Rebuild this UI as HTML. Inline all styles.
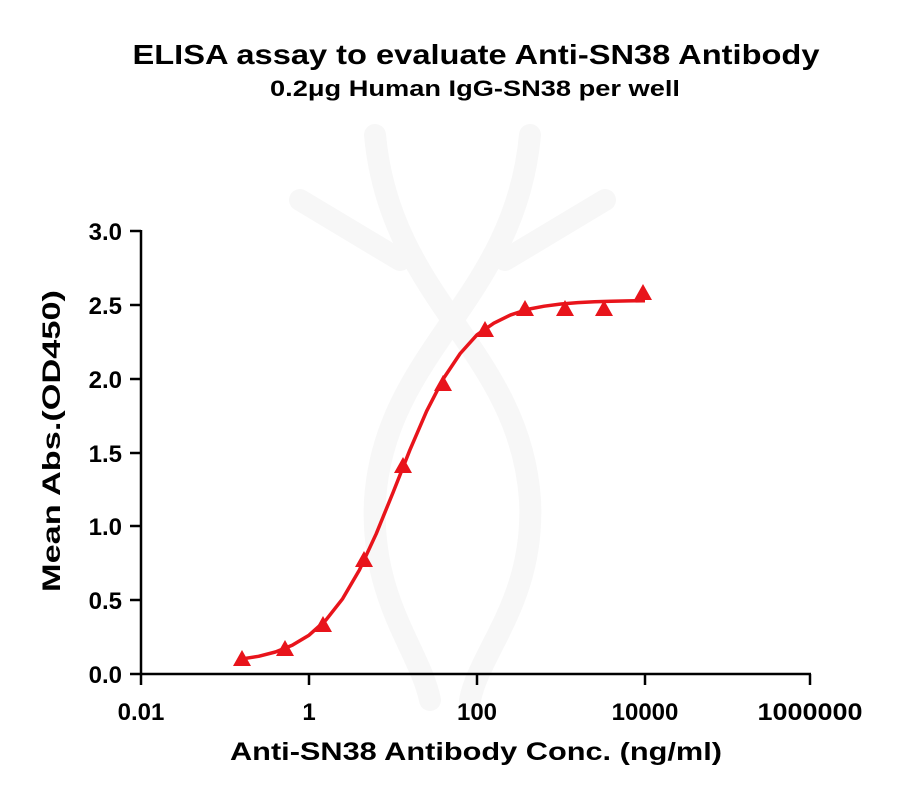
<!DOCTYPE html>
<html><head><meta charset="utf-8"><style>
body{margin:0;background:#fff}
svg text{font-family:"Liberation Sans",Arial,sans-serif;font-weight:bold;fill:#000}
</style></head><body>
<svg width="906" height="800" viewBox="0 0 906 800" xmlns="http://www.w3.org/2000/svg">
<g fill="none" stroke="#f7f7f7" stroke-width="22" stroke-linecap="round">
<path d="M375 135 C 390 300, 520 350, 530 500 C 535 600, 480 650, 470 700"/>
<path d="M530 135 C 515 300, 385 350, 375 500 C 370 600, 420 650, 430 700"/>
<path d="M300 200 L 400 260 M605 200 L 505 260"/>
</g>
<text x="476" y="64" font-size="28" text-anchor="middle" textLength="687" lengthAdjust="spacingAndGlyphs">ELISA assay to evaluate Anti-SN38 Antibody</text>
<text x="475" y="96" font-size="22" text-anchor="middle" textLength="410" lengthAdjust="spacingAndGlyphs">0.2μg Human IgG-SN38 per well</text>
<g stroke="#000" stroke-width="2.5">
<line x1="141" y1="230" x2="141" y2="675"/>
<line x1="130" y1="674" x2="811" y2="674"/>
<line x1="130" y1="231" x2="141" y2="231"/>
<line x1="130" y1="305" x2="141" y2="305"/>
<line x1="130" y1="379" x2="141" y2="379"/>
<line x1="130" y1="453" x2="141" y2="453"/>
<line x1="130" y1="526" x2="141" y2="526"/>
<line x1="130" y1="600" x2="141" y2="600"/>
<line x1="141" y1="674" x2="141" y2="685"/>
<line x1="309" y1="674" x2="309" y2="685"/>
<line x1="477" y1="674" x2="477" y2="685"/>
<line x1="645" y1="674" x2="645" y2="685"/>
<line x1="810" y1="674" x2="810" y2="685"/>
</g>
<g font-size="24" text-anchor="end">
<text x="122" y="240">3.0</text><text x="122" y="314">2.5</text><text x="122" y="388">2.0</text>
<text x="122" y="462">1.5</text><text x="122" y="535">1.0</text><text x="122" y="609">0.5</text><text x="122" y="683">0.0</text>
</g>
<g font-size="24" text-anchor="middle">
<text x="141" y="720">0.01</text><text x="309" y="720">1</text><text x="477" y="720">100</text>
<text x="645" y="720">10000</text><text x="810" y="720" textLength="105" lengthAdjust="spacingAndGlyphs">1000000</text>
</g>
<text x="476" y="760" font-size="25" text-anchor="middle" textLength="492" lengthAdjust="spacingAndGlyphs">Anti-SN38  Antibody Conc. (ng/ml)</text>
<text transform="translate(60,441) rotate(-90)" font-size="25" text-anchor="middle" textLength="302" lengthAdjust="spacingAndGlyphs">Mean Abs.(OD450)</text>
<path fill="none" stroke="#e8141b" stroke-width="3.5" stroke-linejoin="round" d="M240.1 659.2 L258.6 656.3 L275.4 652.0 L292.2 645.3 L309 635.2 L325.8 620.2 L342.6 598.8 L359.4 570.0 L376.2 533.8 L393 492.6 L409.8 450.2 L426.6 411.2 L443.4 378.6 L460.2 353.5 L477 334.8 L493.8 323.2 L510.6 314.9 L527.4 309.4 L544.2 306.2 L561 304.0 L577.8 302.6 L594.6 301.8 L611.4 301.2 L628.2 300.9 L645 300.7"/>
<g fill="#e8141b">
<polygon points="242,650 233,666 251,666"/>
<polygon points="285,640 276,656 294,656"/>
<polygon points="323,616 314,632 332,632"/>
<polygon points="364,551 355,567 373,567"/>
<polygon points="403,457 394,473 412,473"/>
<polygon points="443,375 434,391 452,391"/>
<polygon points="485,321 476,337 494,337"/>
<polygon points="525,300 516,316 534,316"/>
<polygon points="565,300 556,316 574,316"/>
<polygon points="604,300 595,316 613,316"/>
<polygon points="643,284 634,300 652,300"/>
</g>
</svg>
</body></html>
